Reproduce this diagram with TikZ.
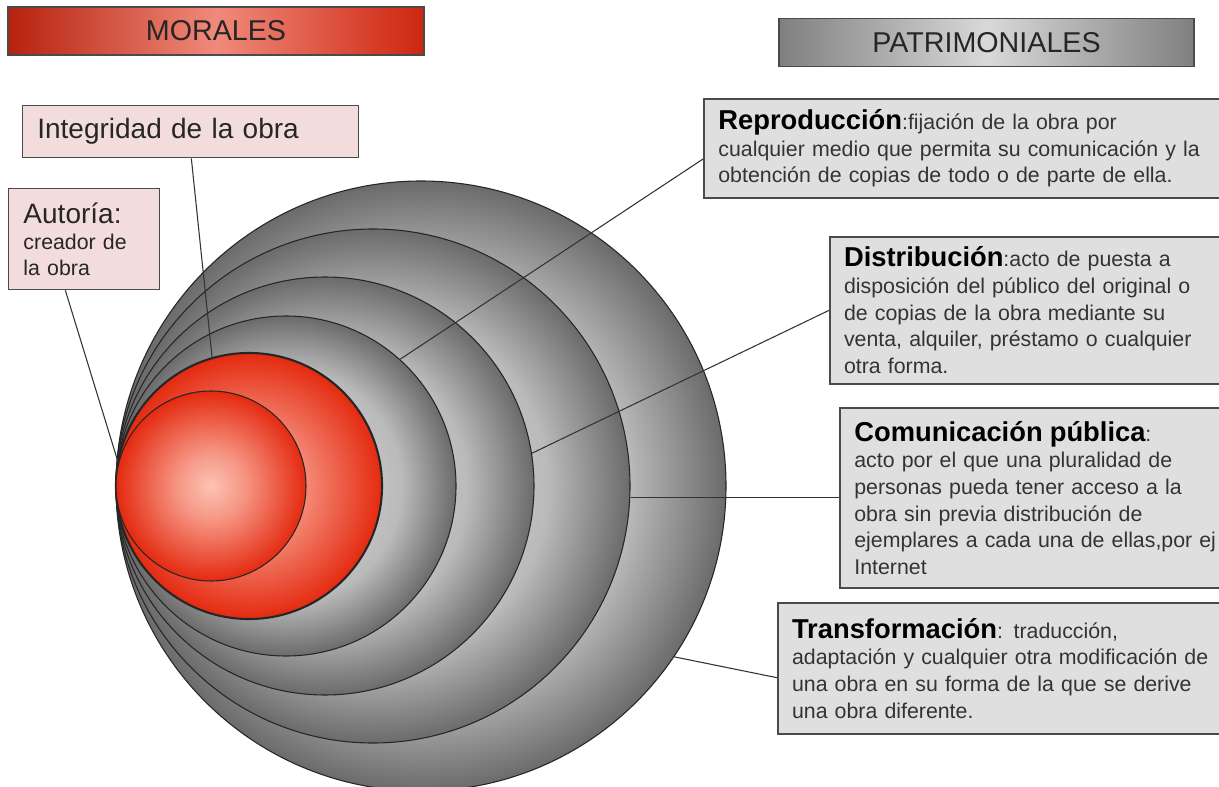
\documentclass[tikz,border=0pt]{standalone}
\usepackage{fontspec}
\setmainfont{Liberation Sans}
\usetikzlibrary{positioning}

\definecolor{rojo}{HTML}{E42A10}
\definecolor{rojoclaro}{HTML}{FDC3B4}
\definecolor{rosa}{HTML}{F3DDDC}
\definecolor{grisbox}{HTML}{DFDFDF}
\definecolor{borde}{HTML}{4A4A4A}

\pgfdeclareradialshading{gris}{\pgfpoint{0bp}{0bp}}{color(0bp)=(black!12); color(17bp)=(black!27); color(25bp)=(black!58); color(50bp)=(black!58)}
\pgfdeclareradialshading{rojizo}{\pgfpoint{0bp}{0bp}}{color(0bp)=(rojoclaro); color(9bp)=(rojoclaro!70!rojo); color(25bp)=(rojo); color(50bp)=(rojo)}

\tikzset{
  anillo/.style={circle, draw=black!85, line width=0.8pt, inner sep=0pt, shade, shading=gris},
  nucleo/.style={circle, draw=black!85, line width=0.8pt, inner sep=0pt, shade, shading=rojizo},
  titulo/.style={draw=borde, line width=1.2pt, minimum height=36pt, font=\fontsize{21.5}{24}\selectfont, text=black!85},
  moralbox/.style={draw=borde, line width=1pt, fill=rosa, anchor=north west, align=left, inner xsep=11pt, text=black!85},
  patrbox/.style={draw=borde, line width=1.3pt, fill=grisbox, anchor=north west, align=left, inner xsep=10.5pt, font=\fontsize{16}{20}\selectfont, text=black!80},
  conector/.style={draw=black!80, line width=0.8pt}
}
\newcommand{\cab}[1]{{\bfseries\fontsize{20.5}{20}\selectfont\color{black}#1}}

\begin{document}
\begin{tikzpicture}[x=0.75pt, y=-0.75pt]
\useasboundingbox (0,0) rectangle (1219,787);
\fill[white] (0,0) rectangle (1219,787);

% circulos
\node[anillo, minimum size=2*305*0.75pt] (c1) at (421,486) {};
\node[anillo, minimum size=2*257*0.75pt] (c2) at (373,486) {};
\node[anillo, minimum size=2*209*0.75pt] (c3) at (325,486) {};
\node[anillo, minimum size=2*170*0.75pt] (c4) at (286,486) {};
\node[nucleo, line width=1.6pt, minimum size=2*133*0.75pt] (c5) at (249,486) {};
\node[nucleo, minimum size=2*95*0.75pt] (c6) at (211,486) {};

% titulos
\node[titulo, minimum width=416*0.75pt, left color=rojo!80!black, right color=rojo!90!black, middle color=rojo!55!white] (morales) at (216,31) {MORALES};
\node[titulo, minimum width=415*0.75pt, left color=black!50, right color=black!50, middle color=black!15] (patrim) at (986.5,42.5) {PATRIMONIALES};

% morales
\node[moralbox, minimum width=336*0.75pt, minimum height=52*0.75pt, text width=230pt, font=\fontsize{21}{24}\selectfont] (integ) at (22,105) {Integridad de la obra};
\node[moralbox, minimum width=151*0.75pt, minimum height=101*0.75pt, text width=91pt, font=\fontsize{16}{19.5}\selectfont] (autoria) at (8,188) {{\fontsize{21}{24}\selectfont Autoría:}\\creador de\\la obra};

% patrimoniales
\node[patrbox, minimum width=557*0.75pt, minimum height=99*0.75pt, text width=396pt] (repro) at (703,98)
  {\cab{Reproducción}:fijación de la obra por\\cualquier medio que permita su comunicación y la\\obtención de copias de todo o de parte de ella.};
\node[patrbox, minimum width=431*0.75pt, minimum height=147*0.75pt, text width=302pt] (distrib) at (829,236)
  {\cab{Distribución}:acto de puesta a\\disposición del público del original o\\de copias de la obra mediante su\\venta, alquiler, préstamo o cualquier\\otra forma.};
\node[patrbox, minimum width=421*0.75pt, minimum height=180*0.75pt, text width=294pt] (comun) at (839,407)
  {\cab{Comunicación pública}:\\acto por el que una pluralidad de\\personas pueda tener acceso a la\\obra sin previa distribución de\\ejemplares a cada una de ellas,por ej\\Internet};
\node[patrbox, minimum width=483*0.75pt, minimum height=131*0.75pt, text width=341pt] (transf) at (777,602)
  {\cab{Transformación}: traducción,\\adaptación y cualquier otra modificación de\\una obra en su forma de la que se derive\\una obra diferente.};

% conectores
\draw[conector] ([xshift=43pt]autoria.south west) -- (c6.166);
\draw[conector] ([xshift=127pt]integ.south west) -- (c5.106);
\draw[conector] ([yshift=-8pt]repro.west) -- (c4.48);
\draw[conector] (distrib.west) -- (c3.9);
\draw[conector] (comun.west) -- (comun.west -| c2.east);
\draw[conector] ([yshift=-7pt]transf.west) -- (c1.-34);
\end{tikzpicture}
\end{document}
